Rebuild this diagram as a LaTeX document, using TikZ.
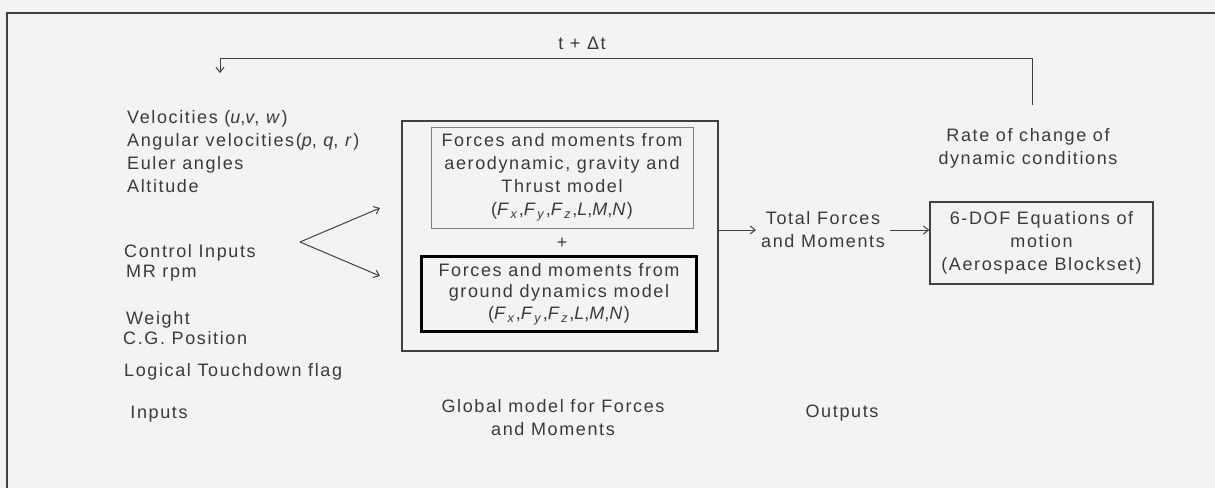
\documentclass[tikz,border=0pt]{standalone}
\usepackage{fontspec}
\usetikzlibrary{arrows.meta}
\newfontfamily\rf[LetterSpace=9]{Liberation Sans}
\newcommand\Fsub[1]{\textit{F}\textsubscript{\textit{#1}}}
\definecolor{bgc}{HTML}{F3F3F3}
\definecolor{txt}{HTML}{3A3A3A}
\definecolor{ln}{HTML}{404040}
\begin{document}
\begin{tikzpicture}[x=1pt,y=-1pt,
  lbl/.style={font=\rf\fontsize{18}{23}\selectfont, text=txt, inner sep=0pt},
  blk/.style={lbl, align=center, draw=ln, line width=1.3pt},
  arr/.style={draw=ln, line width=1pt, -{Straight Barb[length=5pt,width=8pt]}},
  ln1/.style={draw=ln, line width=1.2pt}]
\fill[bgc] (0,0) rectangle (1215,488);
\useasboundingbox (0,0) rectangle (1215,488);
% frame
\draw[ln1] (7,488) -- (7,13) -- (1215,13);

% inputs
\node[lbl, anchor=west, align=left] (st) at (127,152) {Velocities (\textit{u},\textit{v}, \textit{w})\\Angular velocities(\textit{p}, \textit{q}, \textit{r})\\Euler angles\\Altitude};
\node[lbl, anchor=west] (ci) at (124,253) {Control Inputs};
\node[lbl, anchor=west] (mr) at (126,273) {MR rpm};
\node[lbl, anchor=west] (wt) at (126,320) {Weight};
\node[lbl, anchor=west] (cg) at (123,338) {C.G. Position};
\node[lbl, anchor=west] (lt) at (124,372) {Logical Touchdown flag};
\node[lbl] (inp) at (159,414) {Inputs};

% global model
\node[draw=ln, line width=1.2pt, minimum width=316pt, minimum height=230pt, inner sep=0pt] (glob) at (560,236) {};
\node[blk, draw=gray, line width=1pt, minimum width=262pt, minimum height=101pt] (aero) at (562,177.5) {Forces and moments from\\aerodynamic, gravity and\\Thrust model\\(\Fsub{x},\Fsub{y},\Fsub{z},\textit{L},\textit{M},\textit{N})};
\node[lbl] (plus) at (562,243) {+};
\node[blk, draw=black, line width=3pt, minimum width=275pt, minimum height=75pt, font=\rf\fontsize{18}{21.5}\selectfont] (gnd) at (559,294) {Forces and moments from\\ground dynamics model\\(\Fsub{x},\Fsub{y},\Fsub{z},\textit{L},\textit{M},\textit{N})};
\node[lbl, align=center] (gm) at (553,418) {Global model for Forces\\and Moments};

% input arrows
\coordinate (v) at (300,242);
\coordinate (up) at (380,208);
\coordinate (dn) at (380,276);
\draw[arr] (v) -- (up);
\draw[arr] (v) -- (dn);

% outputs
\node[lbl, align=center, inner xsep=5pt] (tot) at (823,230) {Total Forces\\and Moments};
\node[lbl] (out) at (842,413) {Outputs};
\node[blk, line width=1.5pt, minimum width=223pt, minimum height=82pt] (dof) at (1041.5,243) {6-DOF Equations of\\motion\\(Aerospace Blockset)};
\node[lbl, align=center] (rate) at (1028,148) {Rate of change of\\dynamic conditions};
\draw[arr] (glob.east |- tot.west) -- (tot.west);
\draw[arr] (tot.east) -- (dof.west |- tot.east);

% feedback
\coordinate (fbs) at (1032,105);
\coordinate (fbe) at (220,73);
\draw[arr] (fbs) -- (1032,58) -- (220,58) -- (fbe);
\node[lbl] (dt) at (582,43) {t + Δt};
\end{tikzpicture}
\end{document}
